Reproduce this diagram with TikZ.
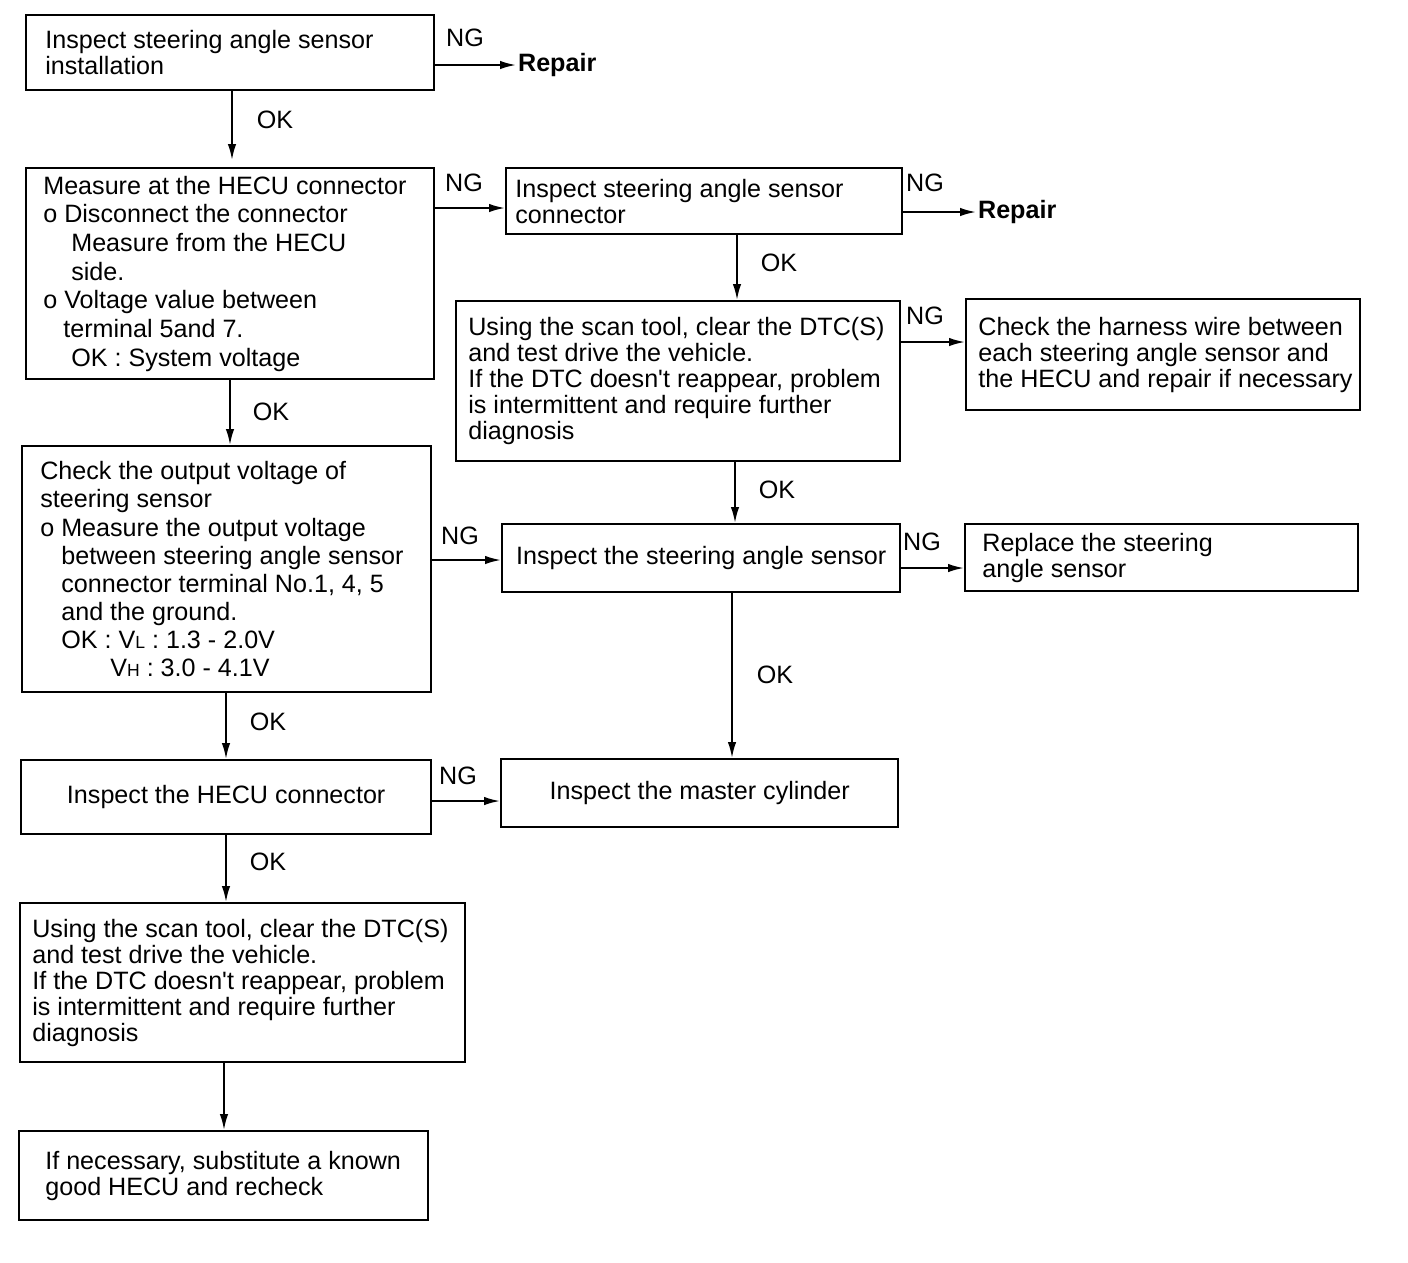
\documentclass[tikz,border=0pt]{standalone}
\usepackage{fontspec}
\setmainfont{Liberation Sans}
\usetikzlibrary{arrows.meta}

\tikzset{
    stepbox/.style={draw, line width=1.4pt, anchor=north west, inner sep=0pt,
        font=\fontsize{14.3}{14.8}\selectfont},
    steptext/.style={anchor=west, align=left, inner sep=0pt,
        font=\fontsize{14.3}{14.8}\selectfont},
    lab/.style={inner sep=1pt, font=\fontsize{14.3}{14.8}\selectfont},
    arr/.style={line width=1.1pt, -{Latex[length=3.2mm, width=1.7mm]}}
}

\begin{document}
\begin{tikzpicture}[x=0.02cm, y=-0.02cm]
    \useasboundingbox (0,0) rectangle (1408,1262);

    % left column
    \node[stepbox, minimum width=8.16cm, minimum height=1.5cm] (inst) at (25,14) {};
    \node[steptext] (inst-t) at ([xshift=0.4cm]inst.west) {Inspect steering angle sensor\\installation};
    \node[stepbox, minimum width=8.16cm, minimum height=4.22cm] (hecu) at (25,167) {};
    \node[steptext, font=\fontsize{14.3}{16.3}\selectfont] (hecu-t) at ([xshift=0.36cm]hecu.west)
        {Measure at the HECU connector\\o Disconnect the connector\\\hspace*{0.56cm}Measure from the HECU\\\hspace*{0.56cm}side.\\o Voltage value between\\\hspace*{0.4cm}terminal 5and 7.\\\hspace*{0.56cm}OK : System voltage};
    \node[stepbox, minimum width=8.18cm, minimum height=4.92cm] (outv) at (21,445) {};
    \node[steptext, font=\fontsize{14.3}{16}\selectfont] (outv-t) at ([xshift=0.38cm]outv.west)
        {Check the output voltage of\\steering sensor\\o Measure the output voltage\\\hspace*{0.42cm}between steering angle sensor\\\hspace*{0.42cm}connector terminal No.1, 4, 5\\\hspace*{0.42cm}and the ground.\\\hspace*{0.42cm}OK : V{\fontsize{10}{10}\selectfont L} : 1.3 - 2.0V\\\hspace*{1.4cm}V{\fontsize{10}{10}\selectfont H} : 3.0 - 4.1V};
    \node[stepbox, minimum width=8.2cm, minimum height=1.48cm] (hconn) at (20,759) {Inspect the HECU connector};
    \node[stepbox, minimum width=8.9cm, minimum height=3.18cm] (scan2) at (19,902) {};
    \node[steptext] (scan2-t) at ([xshift=0.26cm]scan2.west)
        {Using the scan tool, clear the DTC(S)\\and test drive the vehicle.\\If the DTC doesn\textquotesingle t reappear, problem\\is intermittent and require further\\diagnosis};
    \node[stepbox, minimum width=8.18cm, minimum height=1.78cm] (subst) at (18,1130) {};
    \node[steptext] (subst-t) at ([xshift=0.54cm]subst.west) {If necessary, substitute a known\\good HECU and recheck};

    % middle column
    \node[stepbox, minimum width=7.92cm, minimum height=1.32cm] (conn) at (505,167) {};
    \node[steptext] (conn-t) at ([xshift=0.2cm]conn.west) {Inspect steering angle sensor\\connector};
    \node[stepbox, minimum width=8.88cm, minimum height=3.2cm] (scan1) at (455,300) {};
    \node[steptext] (scan1-t) at ([xshift=0.26cm]scan1.west)
        {Using the scan tool, clear the DTC(S)\\and test drive the vehicle.\\If the DTC doesn\textquotesingle t reappear, problem\\is intermittent and require further\\diagnosis};
    \node[stepbox, minimum width=7.96cm, minimum height=1.36cm] (sens) at (501,523) {Inspect the steering angle sensor};
    \node[stepbox, minimum width=7.94cm, minimum height=1.36cm] (mast) at (500,758) {Inspect the master cylinder};

    % right column
    \node[stepbox, minimum width=7.88cm, minimum height=2.22cm] (harn) at (965,298) {};
    \node[steptext] (harn-t) at ([xshift=0.26cm]harn.west)
        {Check the harness wire between\\each steering angle sensor and\\the HECU and repair if necessary};
    \node[stepbox, minimum width=7.86cm, minimum height=1.34cm] (repl) at (964,523) {};
    \node[steptext] (repl-t) at ([xshift=0.36cm]repl.west) {Replace the steering\\angle sensor};
    \node[lab, anchor=west, font=\fontsize{14.3}{14.8}\selectfont\bfseries] (rep1) at (516,65) {Repair};
    \node[lab, anchor=west, font=\fontsize{14.3}{14.8}\selectfont\bfseries] (rep2) at (976,212) {Repair};

    % labels
    \node[lab] (ng1) at (465,38) {NG};
    \node[lab] (ok1) at (275,120) {OK};
    \node[lab] (ng2) at (464,183) {NG};
    \node[lab] (ok2) at (271,412) {OK};
    \node[lab] (ng3) at (925,183) {NG};
    \node[lab] (ok3) at (779,263) {OK};
    \node[lab] (ng4) at (925,316) {NG};
    \node[lab] (ok4) at (777,490) {OK};
    \node[lab] (ng5) at (460,536) {NG};
    \node[lab] (ng6) at (922,542) {NG};
    \node[lab] (ok5) at (775,675) {OK};
    \node[lab] (ok6) at (268,722) {OK};
    \node[lab] (ng7) at (458,776) {NG};
    \node[lab] (ok7) at (268,862) {OK};

    % connectors
    \draw[arr] (inst.east |- rep1) -- (rep1.west);
    \draw[arr, shorten >=0.14cm] (inst.south -| 232,0) -- (hecu.north -| 232,0);
    \draw[arr] (hecu.east |- 0,208) -- (conn.west |- 0,208);
    \draw[arr] (conn.east |- rep2) -- (rep2.west);
    \draw[arr] (conn.south -| 737,0) -- (scan1.north -| 737,0);
    \draw[arr] (scan1.east |- 0,342) -- (harn.west |- 0,342);
    \draw[arr] (scan1.south -| 735,0) -- (sens.north -| 735,0);
    \draw[arr] (hecu.south -| 230,0) -- (outv.north -| 230,0);
    \draw[arr] (outv.east |- 0,560) -- (sens.west |- 0,560);
    \draw[arr] (sens.east |- 0,568) -- (repl.west |- 0,568);
    \draw[arr] (sens.south -| 732,0) -- (mast.north -| 732,0);
    \draw[arr] (outv.south -| 226,0) -- (hconn.north -| 226,0);
    \draw[arr] (hconn.east |- 0,801) -- (mast.west |- 0,801);
    \draw[arr] (hconn.south -| 226,0) -- (scan2.north -| 226,0);
    \draw[arr] (scan2.south -| 224,0) -- (subst.north -| 224,0);
\end{tikzpicture}
\end{document}
